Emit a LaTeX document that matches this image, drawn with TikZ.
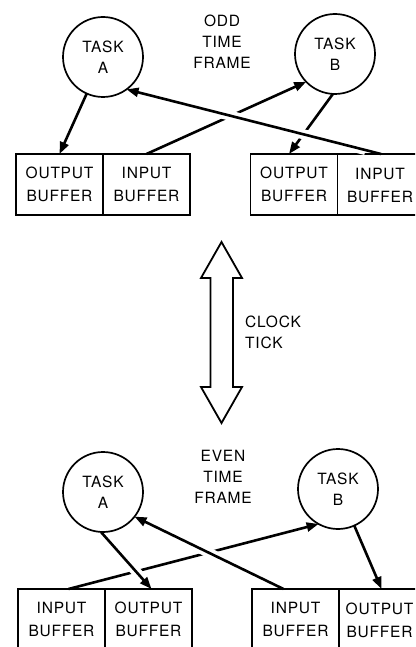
\documentclass[tikz,border=0pt]{standalone}
\usepackage{fontspec}
\setmainfont{TeX Gyre Heros}[LetterSpace=5.0]
\usetikzlibrary{arrows.meta}
\tikzset{
  txt/.style={font=\fontsize{15.5}{21}\selectfont, align=center, inner sep=0pt},
  task/.style={circle, draw, line width=1.7pt, minimum size=80pt, inner sep=0pt, outer sep=0pt, txt},
  buf/.style={rectangle, draw, line width=1.8pt, minimum width=87pt, minimum height=61pt, inner sep=0pt, outer sep=0pt, txt},
  flow/.style={line width=2.6pt, -{Triangle[length=12pt,width=9pt]}},
  halo/.style={draw=white, line width=10pt, shorten <=16pt, shorten >=16pt},
  tick/.style={line width=1.8pt, line join=miter}
}
\begin{document}
\begin{tikzpicture}[x=1pt,y=-1pt]
\useasboundingbox (0,0) rectangle (415,647);
\clip (0,0) rectangle (415,647);
\fill[white] (0,0) rectangle (415,647);

% ---------- odd time frame ----------
\node[task] (A) at (103,57) {TASK\\A};
\node[task] (B) at (335,54) {TASK\\B};
\node[txt] (odd) at (222,42) {ODD\\TIME\\FRAME};
\node[buf] (oA) at (59.5,184.5) {OUTPUT\\[2pt]BUFFER};
\node[buf] (iA) at (146.5,184.5) {INPUT\\[2pt]BUFFER};
\node[buf] (oB) at (294,184.5) {OUTPUT\\[2pt]BUFFER};
\node[buf] (iB) at (381,184.5) {};
\node[txt] (iBt) at (380,185.5) {INPUT\\[2pt]BUFFER};

\draw[flow] (A.246) -- (oA.north);
\draw[flow] (iA.north) -- (B.224);
\draw[flow] (B.267) -- ([xshift=-5pt]oB.north);
\draw[halo] (iB.north) -- (A.306);
\draw[flow] (iB.north) -- (A.306);

% ---------- clock tick ----------
\draw[tick] (221.5,242) -- (242,278) -- (233,278) -- (233,387) -- (242,387)
  -- (221.5,423) -- (201,387) -- (210.5,387) -- (210.5,278) -- (201,278) -- cycle;
\node[txt, align=left, anchor=west] (clk) at (245,332) {CLOCK\\TICK};

% ---------- even time frame ----------
\node[task] (A2) at (103,492) {TASK\\A};
\node[task] (B2) at (338,489) {TASK\\B};
\node[txt] (even) at (223,477) {EVEN\\TIME\\FRAME};
\node[buf] (iA2) at (61.5,619.5) {INPUT\\[2pt]BUFFER};
\node[buf] (oA2) at (148.5,619.5) {OUTPUT\\[2pt]BUFFER};
\node[buf] (iB2) at (295.5,619.5) {INPUT\\[2pt]BUFFER};
\node[buf] (oB2) at (382.5,619.5) {};
\node[txt] (oB2t) at (379.5,620.5) {OUTPUT\\[2pt]BUFFER};

\draw[flow] ([xshift=7pt]iA2.north) -- (B2.241);
\draw[halo, shorten <=8pt] (A2.267) -- ([xshift=3pt]oA2.north);
\draw[flow] (A2.267) -- ([xshift=3pt]oA2.north);
\draw[halo] ([xshift=-12pt]iB2.north) -- (A2.322);
\draw[flow] ([xshift=-12pt]iB2.north) -- (A2.322);
\draw[flow] (B2.294) -- ([xshift=-1pt]oB2.north);
\end{tikzpicture}
\end{document}
